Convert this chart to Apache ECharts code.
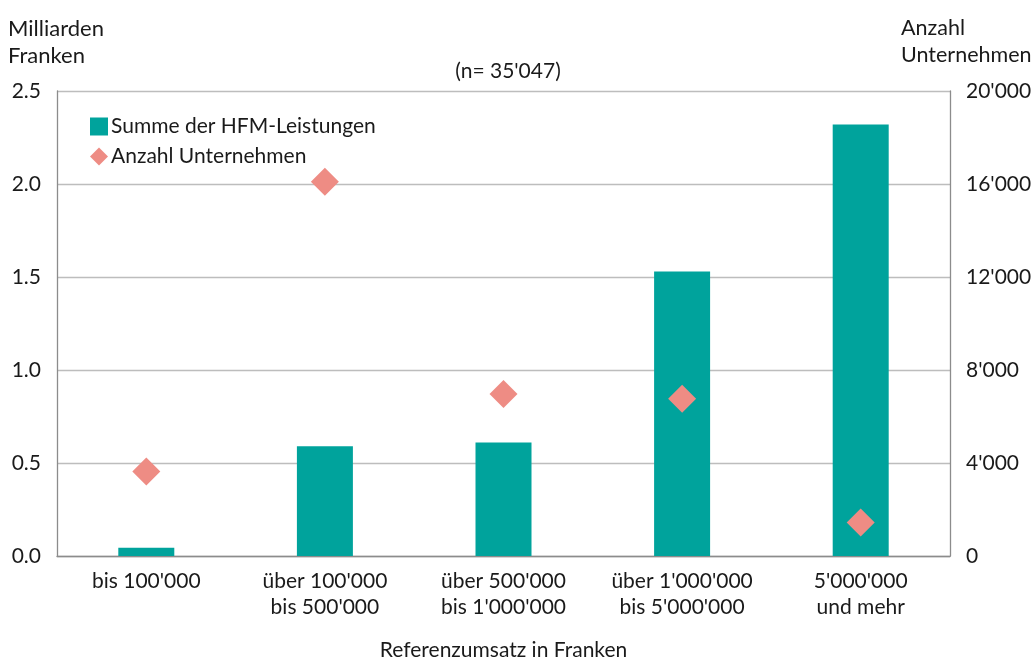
<!DOCTYPE html>
<html>
<head>
<meta charset="utf-8">
<script src="https://cdn.jsdelivr.net/npm/echarts@6/dist/echarts.min.js"></script>
<style>
  html, body { margin: 0; padding: 0; background: #fff; }
  #chart { width: 1035px; height: 657px; }
</style>
</head>
<body>
<div id="chart"></div>
<script>
// Umsatzklassen (Referenzumsatz in Franken)
const categories = [
  "bis 100'000",
  "über 100'000\nbis 500'000",
  "über 500'000\nbis 1'000'000",
  "über 1'000'000\nbis 5'000'000",
  "5'000'000\nund mehr"
];
// Summe der HFM-Leistungen, Milliarden Franken
const hfmSum = [0.045, 0.59, 0.61, 1.53, 2.32];
// Anzahl Unternehmen
const firmCount = [3630, 16100, 6970, 6760, 1440];

const FONT = 'Lato, "Open Sans", sans-serif';
const FS = 21;
const TEXT = '#1a1a1a';
const fmtThousands = v => String(v).replace(/\B(?=(\d{3})+(?!\d))/g, "'");

const chart = echarts.init(document.getElementById('chart'));
chart.setOption({
  animation: false,
  textStyle: { fontFamily: FONT, color: TEXT },
  title: [
    { text: 'Milliarden\nFranken', left: 8, top: 15, padding: 0,
      textStyle: { fontFamily: FONT, fontSize: 22, fontWeight: 'normal', color: TEXT, lineHeight: 27 } },
    { text: 'Anzahl\nUnternehmen', left: 901, top: 15, padding: 0,
      textStyle: { fontFamily: FONT, fontSize: 21.5, fontWeight: 'normal', color: TEXT, lineHeight: 27 } },
    { text: "(n= 35'047)", left: 503, top: 56, textAlign: 'center',
      textStyle: { fontFamily: FONT, fontSize: FS, fontWeight: 'normal', color: TEXT } }
  ],
  legend: {
    orient: 'vertical', left: 85, top: 111, itemGap: 9,
    itemWidth: 18, itemHeight: 18,
    textStyle: { fontFamily: FONT, fontSize: FS, color: TEXT, padding: [0, 0, 0, -2] },
    data: [
      { name: 'Summe der HFM-Leistungen', icon: 'path://M2,2 L16,2 L16,16 L2,16 Z' },
      { name: 'Anzahl Unternehmen', icon: 'diamond' }
    ]
  },
  grid: { left: 57, right: 85, top: 91, bottom: 101, outerBoundsMode: 'none' },
  xAxis: {
    type: 'category', data: categories,
    name: 'Referenzumsatz in Franken', nameLocation: 'middle', nameGap: 84,
    nameTextStyle: { fontFamily: FONT, fontSize: FS, color: TEXT },
    axisLine: { lineStyle: { color: '#8c8c8c', width: 1.3 } },
    axisTick: { show: false },
    axisLabel: { interval: 0, hideOverlap: false, fontFamily: FONT, fontSize: FS,
      color: TEXT, lineHeight: 26, margin: 12 }
  },
  yAxis: [
    {
      type: 'value', min: 0, max: 2.5, interval: 0.5,
      axisLine: { show: true, lineStyle: { color: '#8c8c8c', width: 1.3 } },
      axisTick: { show: false },
      splitLine: { lineStyle: { color: '#bdbdbd', width: 1.3 } },
      axisLabel: { fontFamily: FONT, fontSize: FS, color: TEXT, margin: 16,
        formatter: v => v.toFixed(1) }
    },
    {
      type: 'value', min: 0, max: 20000, interval: 4000, position: 'right',
      axisLine: { show: true, lineStyle: { color: '#8c8c8c', width: 1.3 } },
      axisTick: { show: false },
      splitLine: { show: false },
      axisLabel: { fontFamily: FONT, fontSize: FS, color: TEXT, margin: 16,
        formatter: fmtThousands }
    }
  ],
  series: [
    {
      name: 'Summe der HFM-Leistungen', type: 'bar', yAxisIndex: 0,
      data: hfmSum, barWidth: 56,
      itemStyle: { color: '#00a39c' }
    },
    {
      name: 'Anzahl Unternehmen', type: 'scatter', yAxisIndex: 1,
      data: firmCount, symbol: 'diamond', symbolSize: [28, 28],
      itemStyle: { color: '#ee8c84', opacity: 1 }, z: 5
    }
  ]
});
</script>
</body>
</html>
